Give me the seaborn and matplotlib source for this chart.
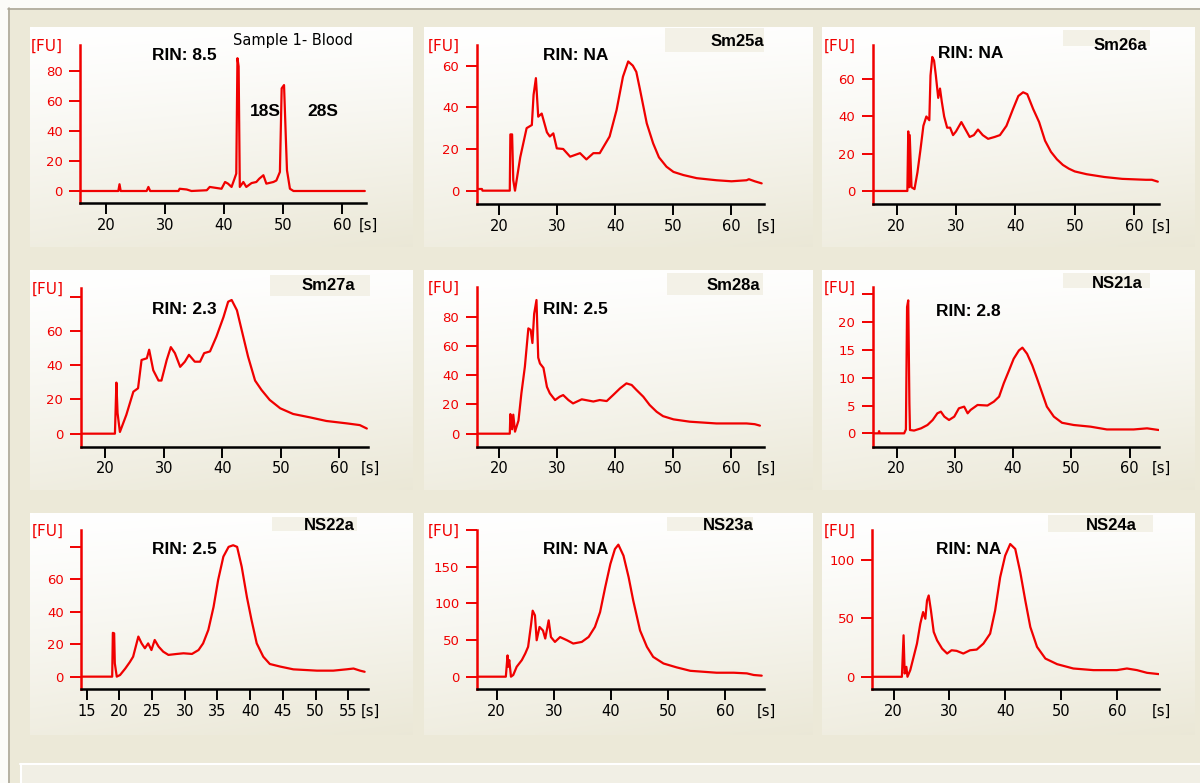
import numpy as np
import pandas as pd
import matplotlib
matplotlib.use("Agg")
import matplotlib.pyplot as plt
from matplotlib.patches import Rectangle
import seaborn as sns

# ---------------- data ----------------
sample_names = ["Sample 1- Blood", "Sm25a", "Sm26a", "Sm27a", "Sm28a",
                "NS21a", "NS22a", "NS23a", "NS24a"]
rin_labels = ["RIN: 8.5", "RIN: NA", "RIN: NA", "RIN: 2.3", "RIN: 2.5",
              "RIN: 2.8", "RIN: 2.5", "RIN: NA", "RIN: NA"]
peak_names = ["18S", "28S"]

blood_x = [15.6, 22.1, 22.3, 22.5, 26.9, 27.2, 27.5, 32.3, 32.5, 33.7, 34.5, 37.1, 37.6, 39.6,
           40.2, 40.7, 41.3, 41.8, 42.1, 42.3, 42.5, 42.7, 43.3, 43.8, 44.7, 45.5, 46.0, 46.7,
           47.2, 48.4, 48.9, 49.5, 49.8, 50.2, 50.5, 50.7, 51.2, 51.8, 63.9]
blood_y = [0, 0, 4.5, 0, 0, 2.7, 0, 0, 1.5, 1.0, 0, 0.5, 2.7, 1.5,
           6, 4.9, 2.7, 8.2, 11.6, 88.5, 83, 2.7, 6, 2.7, 5.3, 6, 8.2, 10.5,
           4.9, 6, 7, 12.7, 68.4, 70.6, 36, 13.8, 1.5, 0, 0]

sm25_x = [16.1, 17.0, 17.1, 21.8, 21.9, 22.2, 22.4, 22.7, 23.6, 24.7, 25.6, 25.9, 26.3, 26.7,
          27.3, 28.2, 28.7, 29.3, 29.9, 31.0, 32.2, 33.9, 35.0, 36.2, 37.3, 39.0, 40.2, 41.3,
          42.2, 43.0, 43.6, 44.2, 45.4, 46.5, 47.5, 48.8, 50.0, 51.7, 54.0, 57.4, 60.0, 62.6,
          63.0, 64.0, 65.2]
sm25_y = [0.8, 0.8, 0, 0, 27, 27, 5, 0, 16, 30, 31.5, 46, 54, 35.5,
          37, 28, 26, 27.5, 20.3, 20, 16.3, 18, 15, 18, 18, 26, 38.7, 54.7,
          62, 60, 57, 49, 32.3, 22.7, 16, 11.5, 9, 7.5, 6, 5, 4.5, 5,
          5.5, 4.5, 3.5]

sm26_x = [16.0, 21.8, 21.95, 22.1, 22.2, 22.5, 23.0, 23.5, 24.0, 24.5, 25.0, 25.5, 25.7, 26.0,
          26.3, 26.6, 27.0, 27.3, 27.6, 28.0, 28.5, 29.0, 29.5, 30.0, 30.9, 32.3, 33.0, 33.7,
          34.5, 35.4, 36.5, 37.4, 38.5, 39.6, 40.5, 41.3, 42.0, 43.0, 44.0, 45.0, 46.0, 47.0,
          48.0, 49.0, 50.0, 52.0, 55.0, 58.0, 62.0, 63.0, 64.0]
sm26_y = [0, 0, 32, 2, 30, 2, 1, 10, 22, 35, 40, 38, 62, 72,
          70, 62, 50, 55, 48, 40, 34, 34, 30, 32, 37, 29, 30, 33,
          30, 28, 29, 30, 35, 44, 51, 53, 52, 44, 37, 27, 21, 17,
          14, 12, 10.5, 9, 7.5, 6.5, 6, 6, 5]

sm27_x = [15.8, 21.65, 21.9, 22.1, 22.5, 23.6, 24.8, 25.6, 26.2, 27.1, 27.5, 28.2, 29.1, 29.6,
          30.5, 31.2, 31.9, 32.8, 33.6, 34.3, 35.3, 36.2, 36.9, 37.9, 39.0, 40.2, 41.0, 41.6,
          42.5, 43.3, 44.4, 45.6, 46.7, 48.1, 49.9, 52.1, 55.0, 57.8, 61.3, 63.5, 64.7]
sm27_y = [0, 0, 29.8, 12, 1, 11, 24.5, 26.5, 43, 44, 49, 37, 31, 31,
          43, 50.5, 47, 39, 42, 46, 42, 42, 47, 48, 56.7, 68, 77, 78,
          72, 60.6, 45, 31, 25.5, 19.7, 14.8, 11.5, 9.5, 7.4, 6, 5, 3]

sm28_x = [16.1, 21.8, 21.9, 22.2, 22.4, 22.7, 23.3, 23.8, 24.4, 25.0, 25.4, 25.7, 26.0, 26.4,
          26.7, 27.0, 27.6, 28.2, 28.7, 29.6, 30.4, 31.0, 31.9, 32.7, 34.2, 36.2, 37.3, 38.5,
          39.6, 40.8, 41.9, 42.8, 43.6, 44.8, 45.9, 47.1, 48.2, 50.0, 52.8, 57.4, 62.6, 64.0, 64.9]
sm28_y = [0, 0, 13.4, 3, 13, 1.4, 9, 27.6, 45.8, 72, 71, 62, 82, 91.4,
          52, 48, 45, 32, 27.6, 23, 25.3, 26.4, 23, 20.7, 23.5, 22, 23, 22.3,
          26.4, 31, 34.4, 33.3, 30, 25.3, 19.6, 15, 12, 9.8, 8.2, 7, 7, 6.5, 5.5]

ns21_x = [15.9, 16.9, 17.0, 17.1, 21.3, 21.6, 21.8, 22.0, 22.2, 22.3, 23.0, 24.2, 25.3, 26.2,
          27.0, 27.6, 28.2, 29.0, 29.9, 30.7, 31.6, 32.2, 32.7, 33.9, 35.6, 36.7, 37.6, 38.4,
          39.3, 40.1, 41.0, 41.6, 42.4, 43.3, 44.1, 45.0, 45.8, 47.0, 48.4, 50.4, 53.3, 56.1,
          60.7, 63.0, 65.0]
ns21_y = [0, 0, 0.4, 0, 0, 0.7, 22.7, 23.9, 5.4, 0.6, 0.5, 0.9, 1.5, 2.4,
          3.6, 3.9, 3, 2.4, 3, 4.5, 4.8, 3.6, 4.2, 5.1, 5, 5.7, 6.6, 9,
          11.3, 13.4, 14.9, 15.4, 14.3, 12.2, 9.9, 7.2, 4.8, 3, 1.9, 1.5, 1.2, 0.7,
          0.7, 0.9, 0.6]

ns22_x = [14.1, 18.9, 19.0, 19.2, 19.3, 19.6, 20.1, 20.9, 21.6, 22.1, 22.5, 22.9, 23.4, 23.9,
          24.4, 24.9, 25.4, 26.0, 26.7, 27.5, 28.8, 29.8, 31.1, 32.1, 32.8, 33.6, 34.4, 35.1,
          35.9, 36.7, 37.4, 38.0, 38.7, 39.5, 40.2, 41.0, 42.0, 43.0, 44.6, 46.6, 50.2, 52.7,
          54.7, 55.8, 56.8, 57.5]
ns22_y = [0, 0, 27, 26.7, 8.2, 0, 1, 5, 9, 12.3, 18.5, 24.7, 20.5, 17.5,
          20.5, 16.4, 22.6, 18.5, 15.4, 13.4, 14, 14.4, 14, 16.4, 20.5, 28.8, 43, 59.6,
          74, 80, 81, 80, 67.8, 49, 35, 20.5, 12.3, 7.8, 6.2, 4.5, 3.7, 3.7,
          4.5, 5, 3.7, 3]

ns23_x = [16.5, 21.6, 21.9, 22.0, 22.2, 22.5, 22.9, 23.5, 24.4, 25.0, 25.5, 26.0, 26.3, 26.7,
          27.0, 27.5, 28.1, 28.5, 29.1, 29.5, 30.2, 31.1, 32.3, 33.4, 34.9, 36.1, 37.2, 38.1,
          39.0, 39.9, 40.7, 41.3, 42.2, 43.1, 43.9, 45.1, 46.3, 47.4, 49.2, 51.5, 53.9, 58.5,
          61.5, 63.8, 65.0, 66.4]
ns23_y = [0, 0, 29, 13.5, 22.6, 0, 2.3, 13.5, 22.6, 31.6, 40.7, 70, 90, 83.6,
          49.7, 67.8, 63, 52, 76.8, 54, 47.4, 54, 49.7, 45.2, 47.4, 54.2, 67.8, 88,
          122, 153.6, 174, 180, 165, 135.6, 104, 63, 40.7, 27, 18, 12.7, 8, 5.4,
          5.4, 4.5, 2.3, 1.4]

ns24_x = [16.2, 21.5, 21.8, 22.0, 22.3, 22.5, 23.0, 23.6, 24.2, 24.8, 25.3, 25.7, 26.0, 26.3,
          26.7, 27.2, 27.8, 28.7, 29.6, 30.4, 31.3, 32.5, 33.7, 34.9, 36.1, 37.3, 38.2, 39.1,
          40.0, 40.9, 41.8, 42.7, 43.6, 44.5, 45.7, 47.2, 49.3, 52.2, 55.8, 60.0, 61.8, 63.6,
          65.4, 67.5]
ns24_y = [0, 0, 35.5, 2.8, 8.5, 0, 5.7, 17, 28.4, 45.5, 55.4, 49.7, 65.3, 69.6,
          56.8, 38.4, 31.2, 24.1, 19.9, 22.7, 22.2, 19.9, 22.7, 23.3, 28.4, 36.9, 56.8, 85.2,
          103.7, 113.6, 109.4, 89.5, 65.3, 42.6, 25.6, 15.6, 10.8, 7.1, 5.7, 5.7, 7.1, 5.7,
          3.4, 2.3]

traces = [(blood_x, blood_y), (sm25_x, sm25_y), (sm26_x, sm26_y),
          (sm27_x, sm27_y), (sm28_x, sm28_y), (ns21_x, ns21_y),
          (ns22_x, ns22_y), (ns23_x, ns23_y), (ns24_x, ns24_y)]

y_ticks = [[0, 20, 40, 60, 80], [0, 20, 40, 60], [0, 20, 40, 60],
           [0, 20, 40, 60, 80], [0, 20, 40, 60, 80], [0, 5, 10, 15, 20, 25],
           [0, 20, 40, 60, 80], [0, 50, 100, 150, 200], [0, 50, 100]]
y_ticklabels = [["0", "20", "40", "60", "80"], ["0", "20", "40", "60"], ["0", "20", "40", "60"],
                ["0", "20", "40", "60", ""], ["0", "20", "40", "60", "80"],
                ["0", "5", "10", "15", "20", ""],
                ["0", "20", "40", "60", ""], ["0", "50", "100", "150", ""], ["0", "50", "100"]]
x_ticks_std = [20, 30, 40, 50, 60]
x_ticks_ns22 = [15, 20, 25, 30, 35, 40, 45, 50, 55]

# ---------------- layout (pixel geometry of the reference) ----------------
W, H = 1200, 783
# axes box: x_left, x_right, y_top, y_bottom (pixels), xlim, ylim
axes_boxes = [
    (80.0, 366.0, 45, 203, (15.6, 64.1), (-8.0, 97.3)),
    (476.7, 764.0, 45, 204, (16.1, 65.6), (-6.4, 69.9)),
    (872.7, 1159.0, 45, 204, (15.96, 64.2), (-7.0, 78.4)),
    (80.7, 368.0, 288, 446.7, (15.8, 64.9), (-7.6, 85.0)),
    (476.7, 764.0, 287, 446.7, (16.1, 65.6), (-8.9, 100.3)),
    (872.7, 1159.3, 287, 446.7, (15.9, 65.1), (-2.4, 26.3)),
    (81.0, 368.3, 530, 689.3, (14.13, 58.06), (-7.8, 90.4)),
    (476.7, 764.0, 530, 689.3, (16.5, 66.8), (-17.2, 199.0)),
    (872.3, 1159.3, 530, 689.3, (16.2, 67.6), (-10.7, 125.6)),
]
panel_cols = [(30, 413), (424, 813), (822, 1195)]
panel_rows = [(27, 247), (270, 490), (513, 735)]
rin_pos = [(152, 55), (543, 55), (938, 54), (152, 310), (543, 310), (936, 311),
           (152, 550), (543, 550), (936, 550)]
name_pos = [None, (764, 42), (1147, 45), (355, 286), (760, 285), (1143, 284),
            (355, 525), (754, 525), (1137, 525)]
name_box = [None, (665, 764, 28, 52), (1063, 1150, 30, 46), (270, 370, 275, 296),
            (667, 763, 273, 295), (1063, 1150, 273, 288), (272, 357, 517, 531),
            (667, 753, 517, 531), (1048, 1153, 515, 532)]

RED = "#F00000"
BEIGE = np.array([236, 233, 216]) / 255.0

sns.set_style("white")
plt.rcParams['font.family'] = ['DejaVu Sans']

fig = plt.figure(figsize=(12, 7.83), dpi=100)
fig.patch.set_facecolor('#ECE9D8')

bg = fig.add_axes([0, 0, 1, 1])
bg.set_xlim(0, W)
bg.set_ylim(H, 0)
bg.axis('off')
bg.set_zorder(0)

# window chrome
bg.add_patch(Rectangle((0, 0), W, 8, facecolor='#FBFBF8', edgecolor='none'))
bg.add_patch(Rectangle((0, 0), 8, H, facecolor='#FBFBF8', edgecolor='none'))
bg.plot([8, W], [8.5, 8.5], color='#ACA899', lw=1.2)
bg.plot([8.5, 8.5], [8, H], color='#ACA899', lw=1.2)
bg.add_patch(Rectangle((20, 764), W - 20, 25, facecolor='#F1EFE5', edgecolor='none'))
bg.plot([20, W], [764, 764], color='white', lw=1.5)
bg.plot([20.5, 20.5], [764, H], color='white', lw=1.5)

# panel gradients
nx, ny = 60, 60
u = np.linspace(0, 1, nx)[None, :]
v = np.linspace(0, 1, ny)[:, None]
t = np.clip(0.75 * v ** 1.2 + 0.2 * u * v + 0.05 * u, 0, 1)
grad = (1 - t)[..., None] * np.array([1.0, 1.0, 1.0]) + t[..., None] * (BEIGE * 0.995)
for (r0, r1) in panel_rows:
    for (c0, c1) in panel_cols:
        bg.imshow(grad, extent=(c0, c1, r1, r0), aspect='auto',
                  interpolation='bilinear', zorder=1)
bg.set_xlim(0, W)
bg.set_ylim(H, 0)

for i, (tx, ty) in enumerate(traces):
    x0, x1, yt, yb, xl, yl = axes_boxes[i]
    ax = fig.add_axes([x0 / W, 1 - yb / H, (x1 - x0) / W, (yb - yt) / H])
    ax.set_zorder(2)
    df = pd.DataFrame({"time": tx, "fu": ty})
    sns.lineplot(data=df, x="time", y="fu", ax=ax, color=RED, lw=1.6,
                 estimator=None, sort=False)
    ax.set_xlim(*xl)
    ax.set_ylim(*yl)
    ax.set_facecolor('none')
    ax.set_xlabel('')
    ax.set_ylabel('')
    for s in ['top', 'right']:
        ax.spines[s].set_visible(False)
    ax.spines['left'].set_color(RED)
    ax.spines['left'].set_linewidth(1.8)
    ax.spines['bottom'].set_color('black')
    ax.spines['bottom'].set_linewidth(1.8)
    xt = x_ticks_ns22 if i == 6 else x_ticks_std
    ax.set_xticks(xt)
    ax.set_xticklabels([str(v_) for v_ in xt])
    ax.set_yticks(y_ticks[i])
    ax.set_yticklabels(y_ticklabels[i])
    ax.tick_params(axis='y', colors=RED, length=8, width=1.4, direction='out',
                   labelsize=9.5, pad=4.5, left=True)
    ax.tick_params(axis='x', colors='black', length=8, width=1.4, direction='out',
                   labelsize=10.5, pad=2.5, bottom=True)
    ax.grid(False)

    # [FU] and [s] unit labels
    bg.text(x0 - 17, yt + 1, "[FU]", color=RED, fontsize=11, ha='right', va='center',
            zorder=5)
    bg.text(x1 + 2, yb + 22, "[s]", color='black', fontsize=10.5, ha='center',
            va='center', zorder=5)

    # sample name boxes
    if name_box[i] is not None:
        bx0, bx1, by0, by1 = name_box[i]
        bg.add_patch(Rectangle((bx0, by0), bx1 - bx0, by1 - by0,
                               facecolor='#F3F1E7', edgecolor='none', zorder=3))
        nx_, ny_ = name_pos[i]
        bg.text(nx_, ny_, sample_names[i], fontsize=12, fontweight='bold',
                family='Liberation Sans', ha='right', va='center', color='black',
                zorder=5)
    rx, ry = rin_pos[i]
    bg.text(rx, ry, rin_labels[i], fontsize=12.5, fontweight='bold',
            family='Liberation Sans', ha='left', va='center', color='black', zorder=5)

# panel 1 extra annotations
bg.text(233, 40, sample_names[0], fontsize=10.5, ha='left', va='center',
        color='black', zorder=5)
bg.text(250, 112, peak_names[0], fontsize=12.5, fontweight='bold',
        family='Liberation Sans', ha='left', va='center', color='black', zorder=5)
bg.text(307, 112, peak_names[1], fontsize=12.5, fontweight='bold',
        family='Liberation Sans', ha='left', va='center', color='black', zorder=5)

fig.savefig("out.png", dpi=100, facecolor=fig.get_facecolor())
